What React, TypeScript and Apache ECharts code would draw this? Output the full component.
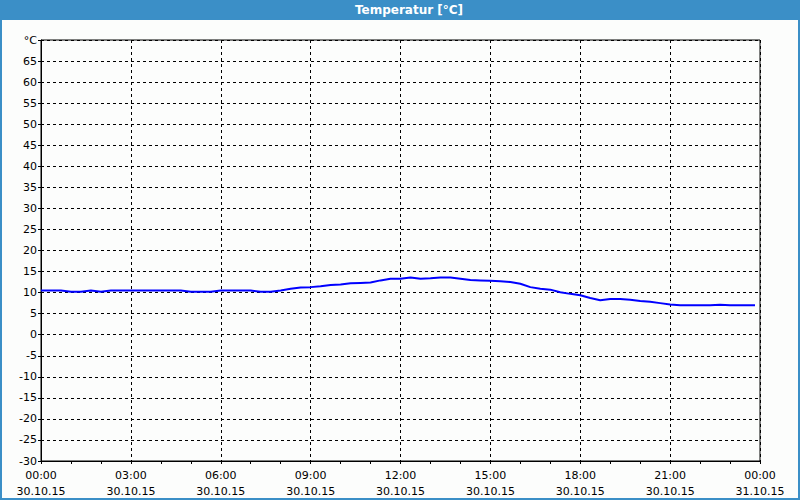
import React, { useEffect, useRef } from "react";
import * as echarts from "echarts";

const times = [
  "00:00","00:20","00:40","01:00","01:20","01:40","02:00","02:20","02:40",
  "03:00","03:20","03:40","04:00","04:20","04:40","05:00","05:20","05:40",
  "06:00","06:20","06:40","07:00","07:20","07:40","08:00","08:20","08:40",
  "09:00","09:20","09:40","10:00","10:20","10:40","11:00","11:20","11:40",
  "12:00","12:20","12:40","13:00","13:20","13:40","14:00","14:20","14:40",
  "15:00","15:20","15:40","16:00","16:20","16:40","17:00","17:20","17:40",
  "18:00","18:20","18:40","19:00","19:20","19:40","20:00","20:20","20:40",
  "21:00","21:20","21:40","22:00","22:20","22:40","23:00","23:20","23:40","23:50",
];
const temps = [
  10.5,10.5,10.5,10.2,10.2,10.5,10.2,10.5,10.5,
  10.5,10.5,10.5,10.5,10.5,10.5,10.2,10.2,10.2,
  10.5,10.5,10.5,10.5,10.2,10.2,10.5,10.9,11.2,
  11.3,11.5,11.8,11.9,12.2,12.3,12.4,12.9,13.3,
  13.3,13.6,13.3,13.4,13.6,13.6,13.3,13.0,12.9,
  12.8,12.7,12.5,12.1,11.3,10.9,10.7,10.1,9.7,
  9.35,8.7,8.2,8.5,8.5,8.3,8.0,7.8,7.5,
  7.2,7.0,7.0,7.0,7.0,7.1,7.0,7.0,7.0,7.0,
];
const xTickLabels: Record<number, string> = {
  0: "00:00\n30.10.15",
  3: "03:00\n30.10.15",
  6: "06:00\n30.10.15",
  9: "09:00\n30.10.15",
  12: "12:00\n30.10.15",
  15: "15:00\n30.10.15",
  18: "18:00\n30.10.15",
  21: "21:00\n30.10.15",
  24: "00:00\n31.10.15",
};
const titleText = "Temperatur [°C]";
const yUnit = "°C";

function toHours(t: string): number {
  const [h, m] = t.split(":").map(Number);
  return h + m / 60;
}

export default function App() {
  const ref = useRef<HTMLDivElement>(null);
  useEffect(() => {
    if (!ref.current) return;
    const chart = echarts.init(ref.current, null, { renderer: "svg" });
    const font = "DejaVu Sans";
    chart.setOption({
      animation: false,
      backgroundColor: "#fcfdfc",
      textStyle: { fontFamily: font },
      graphic: [
        { type: "rect", shape: { x: 0, y: 0, width: 800, height: 20 }, style: { fill: "#3b8fc7" }, z: 0 },
        { type: "rect", shape: { x: 0, y: 0, width: 2, height: 500 }, style: { fill: "#3b8fc7" } },
        { type: "rect", shape: { x: 798, y: 0, width: 2, height: 500 }, style: { fill: "#3b8fc7" } },
        { type: "rect", shape: { x: 0, y: 498, width: 800, height: 2 }, style: { fill: "#3b8fc7" } },
        {
          type: "text",
          x: 409,
          y: 10,
          style: {
            text: titleText,
            fill: "#ffffff",
            font: `bold 12px "${font}"`,
            align: "center",
            verticalAlign: "middle",
          },
        },
      ],
      grid: {
        left: 41,
        right: 40,
        top: 40,
        bottom: 39,
        show: true,
        borderColor: "#000",
        borderWidth: 1,
        backgroundColor: "transparent",
      },
      xAxis: {
        type: "value",
        min: 0,
        max: 24,
        interval: 3,
        axisLine: { show: true, onZero: false, lineStyle: { color: "#000", width: 1 } },
        axisTick: { show: true, length: 3, lineStyle: { color: "#000" } },
        minorTick: { show: true, splitNumber: 3, length: 3, lineStyle: { color: "#000" } },
        splitLine: { show: true, lineStyle: { color: "#000", type: [3, 3], width: 1 } },
        axisLabel: {
          color: "#000",
          fontSize: 11,
          lineHeight: 16,
          margin: 6,
          formatter: (v: number) => xTickLabels[v] ?? "",
        },
      },
      yAxis: {
        type: "value",
        min: -30,
        max: 70,
        interval: 5,
        axisLine: { show: true, onZero: false, lineStyle: { color: "#000", width: 1 } },
        axisTick: { show: true, length: 3, lineStyle: { color: "#000" } },
        splitLine: { show: true, lineStyle: { color: "#000", type: [3, 3], width: 1 } },
        axisLabel: {
          color: "#000",
          fontSize: 11,
          margin: 4,
          formatter: (v: number) => (v === 70 ? yUnit : String(v)),
        },
      },
      series: [
        {
          type: "line",
          data: times.map((t, i) => [toHours(t), temps[i]]),
          showSymbol: false,
          lineStyle: { color: "#0000ff", width: 2 },
          itemStyle: { color: "#0000ff" },
        },
      ],
    });
    return () => chart.dispose();
  }, []);
  return (
    <div
      ref={ref}
      style={{ position: "fixed", left: 0, top: 0, width: 800, height: 500 }}
    />
  );
}
